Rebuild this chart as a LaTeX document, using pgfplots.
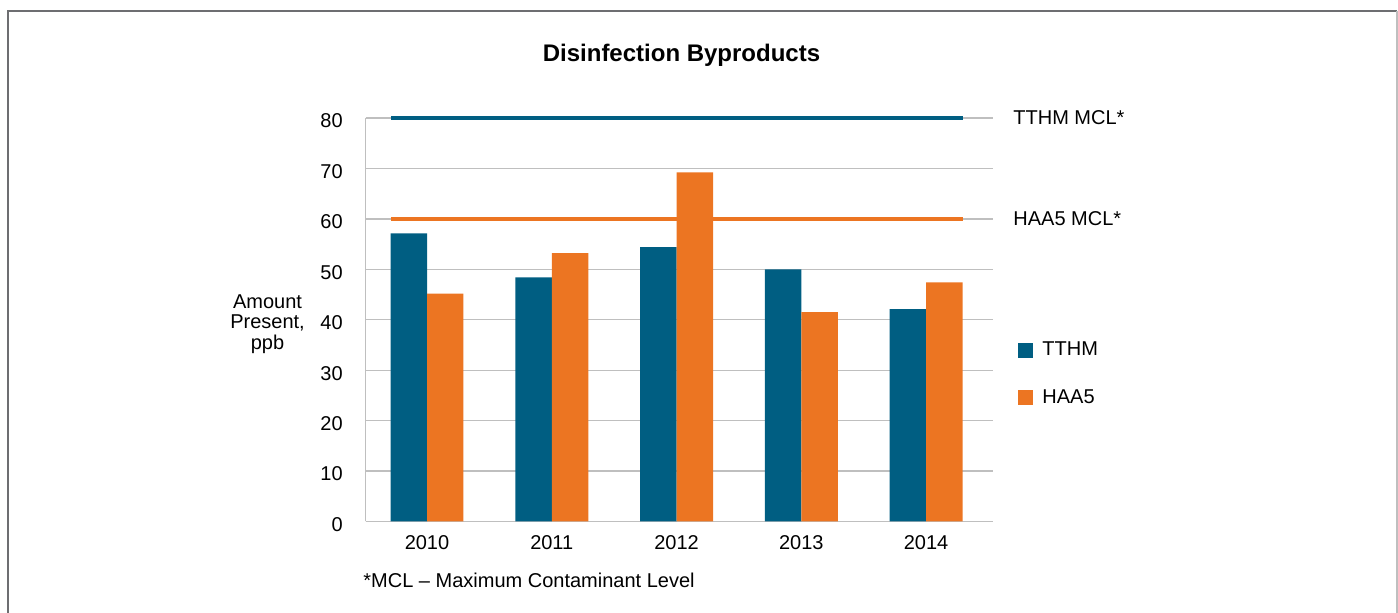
\documentclass[border=0pt]{standalone}
\usepackage{fontspec}
\setmainfont{Liberation Sans}
\usepackage{pgfplots}
\pgfplotsset{compat=1.18}
\definecolor{tthm}{HTML}{005E82}
\definecolor{haa}{HTML}{EC7522}
\definecolor{gridc}{HTML}{BFBFBF}
\definecolor{framec}{HTML}{6D6E71}
\begin{document}
\begin{tikzpicture}
\useasboundingbox (0,0) rectangle (699pt,306.5pt);
% frame
\draw[framec, line width=0.7pt] (4pt,0pt) -- (4pt,301pt) -- (698.5pt,301pt);
\draw[gridc, line width=0.7pt] (698.5pt,301pt) -- (698.5pt,0pt);
\begin{axis}[
  at={(182.75pt,45.75pt)}, anchor=south west,
  scale only axis, width=313.75pt, height=201.75pt,
  xmin=-0.493, xmax=4.537, ymin=0, ymax=80,
  xtick={0,1,2,3,4}, xticklabels={2010,2011,2012,2013,2014},
  ytick={0,10,...,80},
  axis x line*=bottom, axis y line*=left,
  axis line style={gridc, line width=0.65pt, -},
  ymajorgrids, grid style={gridc, line width=0.65pt},
  major tick length=0pt,
  tick label style={font=\fontsize{10}{12}\selectfont, /pgf/number format/assume math mode=true},
  xticklabel style={inner sep=0pt, anchor=north, yshift=-6.75pt},
  yticklabel style={inner sep=0pt, anchor=east, xshift=-11.2pt, yshift=-1.5pt},
  clip=false,
  legend style={draw=none, fill=none, inner sep=0pt, outer sep=0pt,
    at={(rel axis cs:1.0398,0.4449)}, anchor=north west,
    font=\fontsize{10}{12}\selectfont, row sep=15.3pt,
    nodes={inner sep=0pt},
    /tikz/every odd column/.append style={column sep=4.7pt}},
  legend cell align=left,
  legend image code/.code={\fill[#1] (0pt,-3.75pt) rectangle (7.5pt,3.75pt);},
]
\addplot[ybar, bar width=0.2925, bar shift=-0.14625, fill=tthm, draw=none]
  coordinates {(0,57.1) (1,48.4) (2,54.4) (3,50.0) (4,42.1)};
\addlegendentry{TTHM}
\addplot[ybar, bar width=0.2925, bar shift=0.14625, fill=haa, draw=none]
  coordinates {(0,45.2) (1,53.2) (2,69.2) (3,41.5) (4,47.4)};
\addlegendentry{HAA5}
\addplot[tthm, line width=2.35pt, sharp plot, forget plot] coordinates {(-0.285,80) (4.3,80)};
\addplot[haa, line width=2.35pt, sharp plot, forget plot] coordinates {(-0.285,60) (4.3,60)};
\end{axis}
\node[anchor=base, font=\fontsize{12}{14}\selectfont\bfseries, inner sep=0pt] at (340.75pt,275.5pt) {Disinfection Byproducts};
\node[anchor=base west, font=\fontsize{10}{12}\selectfont, inner sep=0pt] at (506.5pt,244pt) {TTHM MCL*};
\node[anchor=base west, font=\fontsize{10}{12}\selectfont, inner sep=0pt] at (506.5pt,193.85pt) {HAA5 MCL*};
\node[align=center, font=\fontsize{10}{10.25}\selectfont, inner sep=0pt] at (133.75pt,144.6pt) {Amount\\Present,\\ppb};
\node[anchor=base west, font=\fontsize{10}{12}\selectfont, inner sep=0pt] at (181.5pt,12.5pt) {*MCL – Maximum Contaminant Level};
\end{tikzpicture}
\end{document}
